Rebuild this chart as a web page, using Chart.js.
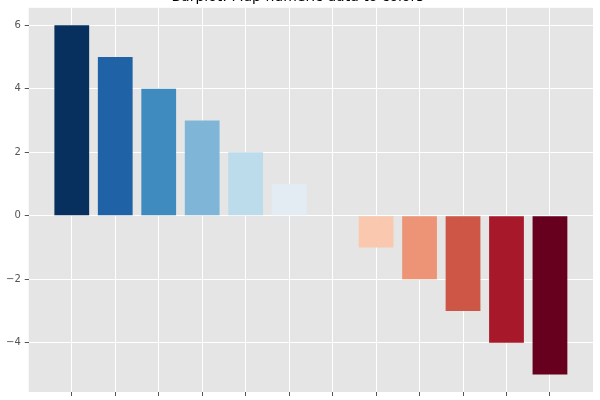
<!DOCTYPE html>
<html>
<head>
<meta charset="utf-8">
<script src="https://cdn.jsdelivr.net/npm/chart.js@4/dist/chart.umd.min.js"></script>
<style>
  html, body { margin: 0; padding: 0; background: #fff; overflow: hidden; }
  #wrap { position: absolute; left: 0; top: -14px; width: 600px; height: 416px; }
</style>
</head>
<body>
<div id="wrap"><canvas id="chart"></canvas></div>
<script>
// bar positions and heights
const positions = [0, 1, 2, 3, 4, 5, 6, 7, 8, 9, 10, 11];
const values = [6, 5, 4, 3, 2, 1, 0, -1, -2, -3, -4, -5];
const barColors = ['#08305e', '#1f63a6', '#3f8bbf', '#7fb6d7', '#bcdcec', '#e3ecf3',
                   '#f7f7f7', '#f9c8ae', '#ec9475', '#cd5647', '#a8182b', '#67001f'];
const yTicks = [-4, -2, 0, 2, 4, 6];

// grey panel behind the plot, ggplot style
const panelBg = {
    id: 'panelBg',
    beforeDraw(chart) {
        const { ctx, chartArea: a } = chart;
        ctx.save();
        ctx.fillStyle = '#e5e5e5';
        ctx.fillRect(a.left, a.top, a.right - a.left, a.bottom - a.top);
        ctx.restore();
    }
};

const ctx = document.getElementById('chart').getContext('2d');
new Chart(ctx, {
    type: 'bar',
    data: {
        datasets: [{
            data: positions.map((p, i) => ({ x: p, y: values[i] })),
            backgroundColor: barColors,
            borderWidth: 0,
            barPercentage: 0.8,
            categoryPercentage: 1.0
        }]
    },
    options: {
        responsive: true,
        maintainAspectRatio: false,
        animation: false,
        layout: { padding: { left: 2, right: 7, top: 0, bottom: 0 } },
        plugins: {
            legend: { display: false },
            tooltip: { enabled: false },
            title: {
                display: true,
                text: 'Barplot: Map numeric data to colors',
                color: '#000',
                font: { family: 'DejaVu Sans', size: 14, weight: 'normal' },
                padding: { top: 3, bottom: 2 }
            }
        },
        scales: {
            x: {
                type: 'linear',
                offset: false,
                min: -0.99,
                max: 11.99,
                afterBuildTicks: axis => { axis.ticks = positions.map(v => ({ value: v })); },
                ticks: { callback: () => '', padding: 0, font: { size: 1 } },
                grid: { offset: false, color: '#ffffff', lineWidth: 1, tickLength: 4, tickColor: '#555555' },
                border: { display: false }
            },
            y: {
                min: -5.55,
                max: 6.55,
                afterBuildTicks: axis => { axis.ticks = yTicks.map(v => ({ value: v })); },
                ticks: {
                    color: '#555555',
                    font: { family: 'DejaVu Sans', size: 10 },
                    padding: 4,
                    callback: v => String(v).replace('-', '\u2212')
                },
                grid: { color: '#ffffff', lineWidth: 1, tickLength: 4, tickColor: '#555555' },
                border: { display: false }
            }
        }
    },
    plugins: [panelBg]
});
</script>
</body>
</html>
